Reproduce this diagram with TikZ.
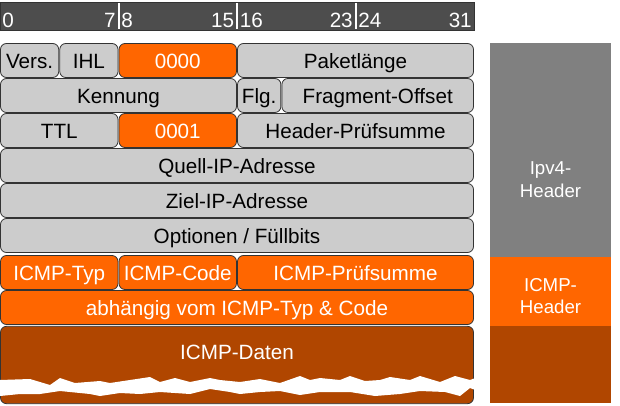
\documentclass[tikz,border=0pt]{standalone}
\usepackage{fontspec}
\setmainfont{Liberation Sans}
\usetikzlibrary{positioning}
\definecolor{cellgray}{RGB}{204,204,204}
\definecolor{icmporange}{RGB}{255,102,0}
\definecolor{icmpbrown}{RGB}{176,70,0}
\definecolor{bargray}{RGB}{77,77,77}
\definecolor{sidegray}{RGB}{128,128,128}
\definecolor{edgegray}{RGB}{51,51,51}

\begin{document}
\begin{tikzpicture}[
        x=0.75pt, y=-0.75pt,
        every node/.append style={font=\fontsize{15.5}{18}\selectfont},
        cell/.style={draw=edgegray, fill=cellgray, rounded corners=4.5pt, minimum height=25.5pt, inner sep=0pt, line width=0.6pt, text height=12.6pt, text depth=0pt},
        icmp/.style={cell, fill=icmporange, text=white},
        data/.style={cell, fill=icmpbrown, minimum height=58pt},
        bit/.style={text=white, inner sep=0pt, text height=11.1pt, text depth=0pt},
        side/.style={text=white, align=center, font=\fontsize{14}{17}\selectfont}
      ]
        \useasboundingbox (0,0) rectangle (620,406);
        % bit ruler
        \draw[edgegray, fill=bargray] (0,2) rectangle (474,30);
        \foreach \sx in {118.5, 237, 355.5}
          \draw[white, line width=1.5pt] (\sx,3) -- (\sx,29);
        \node[bit, anchor=west] (b0)  at (2,20.5)   {0};
        \node[bit, anchor=east] (b7)  at (116,20.5) {7};
        \node[bit, anchor=west] (b8)  at (121,20.5) {8};
        \node[bit, anchor=east] (b15) at (234.5,20.5) {15};
        \node[bit, anchor=west] (b16) at (239.5,20.5) {16};
        \node[bit, anchor=east] (b23) at (353,20.5) {23};
        \node[bit, anchor=west] (b24) at (358,20.5) {24};
        \node[bit, anchor=east] (b31) at (472,20.5) {31};
        % IPv4 header
        \node[cell, minimum width=43.7pt]  (vers)  at (29.6,60.5)  {Vers.};
        \node[cell, minimum width=43.7pt]  (ihl)   at (88.9,60.5)  {IHL};
        \node[icmp, minimum width=88.1pt]  (tos)   at (177.75,60.5) {0000};
        \node[cell, minimum width=177pt]   (len)   at (355.5,60.5) {Paketlänge};
        \node[cell, minimum width=177pt]   (kenn)  at (118.5,95.5) {Kennung};
        \node[cell, minimum width=32.5pt]  (flg)   at (259.2,95.5) {Flg.};
        \node[cell, minimum width=143.7pt] (frag)  at (377.7,95.5) {Fragment-Offset};
        \node[cell, minimum width=88.1pt]  (ttl)   at (59.25,130.5) {TTL};
        \node[icmp, minimum width=88.1pt]  (proto) at (177.75,130.5) {0001};
        \node[cell, minimum width=177pt]   (hsum)  at (355.5,130.5) {Header-Prüfsumme};
        \node[cell, minimum width=354.75pt] (src)  at (237,165.5) {Quell-IP-Adresse};
        \node[cell, minimum width=354.75pt] (dst)  at (237,200.5) {Ziel-IP-Adresse};
        \node[cell, minimum width=354.75pt] (opt)  at (237,235.5) {Optionen / Füllbits};
        % ICMP header
        \node[icmp, minimum width=88.1pt]  (typ)   at (59.25,272.5) {ICMP-Typ};
        \node[icmp, minimum width=88.1pt]  (code)  at (177.75,272.5) {ICMP-Code};
        \node[icmp, minimum width=177pt]   (isum)  at (355.5,272.5) {ICMP-Prüfsumme};
        \node[icmp, minimum width=354.75pt] (rest) at (237,307.5) {abhängig vom ICMP-Typ \& Code};
        % ICMP data
        \node[data, minimum width=354.75pt] (daten) at (237,365) {};
        \node[text=white, text height=12.6pt, text depth=0pt] (datentext) at ([yshift=10.5pt]daten.center) {ICMP-Daten};
        \fill[white] (-3,380) -- (0,380) -- (30,379) -- (50,385) -- (60,378) -- (75,383)
          -- (100,381) -- (110,383) -- (130,380) -- (150,377) -- (160,382) -- (175,378)
          -- (190,382) -- (210,378) -- (220,380) -- (240,382) -- (260,379) -- (280,383)
          -- (300,376) -- (310,380) -- (320,378) -- (340,380) -- (350,376) -- (365,381)
          -- (380,380) -- (390,377) -- (410,380) -- (420,376) -- (440,382) -- (455,376)
          -- (470,380) -- (478,377)
          -- (478,391) -- (470,388) -- (460,396) -- (445,392) -- (420,391) -- (400,394)
          -- (375,396) -- (350,392) -- (320,392) -- (300,395) -- (280,391) -- (260,392)
          -- (240,394) -- (230,392) -- (210,389) -- (190,394) -- (160,392) -- (140,394)
          -- (120,393) -- (100,396) -- (90,394) -- (60,391) -- (40,394) -- (20,394)
          -- (0,396) -- (-3,396) -- cycle;
        % side legend
        \fill[sidegray]   (490,43)  rectangle (611,257);
        \fill[icmporange] (490,257) rectangle (611,326);
        \fill[icmpbrown]  (490,326) rectangle (611,403);
        \node[side] (ipv4lbl) at (550.5,180) {Ipv4-\\Header};
        \node[side] (icmplbl) at (550.5,296) {ICMP-\\Header};
      \end{tikzpicture}
\end{document}
